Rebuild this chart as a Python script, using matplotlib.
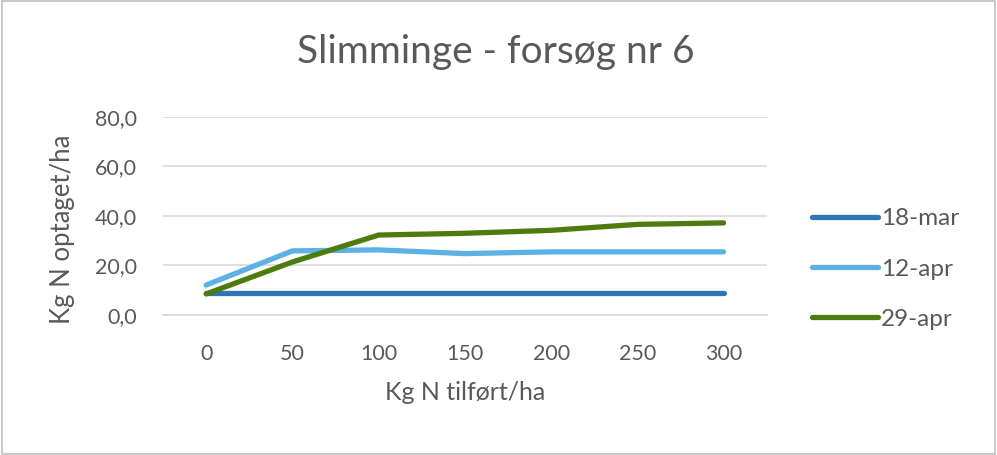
import matplotlib.pyplot as plt

# Chart data
doses = [0, 50, 100, 150, 200, 250, 300]
series_names = ['18-mar', '12-apr', '29-apr']
mar18 = [8.7, 8.7, 8.7, 8.7, 8.7, 8.7, 8.7]
apr12 = [12.1, 25.9, 26.3, 24.8, 25.5, 25.5, 25.5]
apr29 = [8.5, 21.4, 32.3, 33.0, 34.2, 36.6, 37.2]
y_ticks = [0, 20, 40, 60, 80]

colors = ['#2E75B6', '#5DB1E4', '#4E7B0E']
txt = '#595959'

plt.rcParams['font.family'] = ['Lato', 'DejaVu Sans']

fig = plt.figure(figsize=(9.97, 4.55), dpi=100)
ax = fig.add_axes([0.1635, 0.3077, 0.6055, 0.4353])

pos = list(range(len(doses)))
for vals, name, c in zip([mar18, apr12, apr29], series_names, colors):
    ax.plot(pos, vals, color=c, lw=3.8, solid_capstyle='round', label=name)

ax.set_xlim(-0.5, len(doses) - 0.5)
ax.set_ylim(0, 80)
ax.set_yticks(y_ticks)
ax.set_yticklabels([f'{v:.1f}'.replace('.', ',') for v in y_ticks])
ax.set_xticks(pos)
ax.set_xticklabels([str(d) for d in doses])
ax.grid(axis='y', color='#D9D9D9', lw=1.2)
ax.set_axisbelow(True)
for s in ['top', 'right', 'left']:
    ax.spines[s].set_visible(False)
ax.spines['bottom'].set_color('#D9D9D9')
ax.spines['bottom'].set_linewidth(1.2)
ax.tick_params(length=0, labelsize=15.5, colors=txt, pad=21)
ax.tick_params(axis='y', pad=19)

ax.set_xlabel('Kg N tilført/ha', fontsize=18, color=txt, labelpad=12)
ax.set_ylabel('Kg N optaget/ha', fontsize=18.5, color=txt, va='center')
ax.yaxis.set_label_coords(-0.167, 0.434)
fig.text(0.497, 0.885, 'Slimminge - forsøg nr 6', fontsize=28, color=txt,
         ha='center', va='center')

leg = fig.legend(loc='center left', bbox_to_anchor=(0.8144, 0.4088), frameon=False,
                 fontsize=17.5, labelspacing=1.2, handlelength=2.7,
                 handletextpad=0.15, borderpad=0, borderaxespad=0)
for t in leg.get_texts():
    t.set_color(txt)

# outer border
fig.patches.append(plt.Rectangle((0.002, 0.003), 0.996, 0.994, transform=fig.transFigure,
                                 fill=False, edgecolor='#BFBFBF', lw=1.2))

fig.savefig('out.png', dpi=100)
